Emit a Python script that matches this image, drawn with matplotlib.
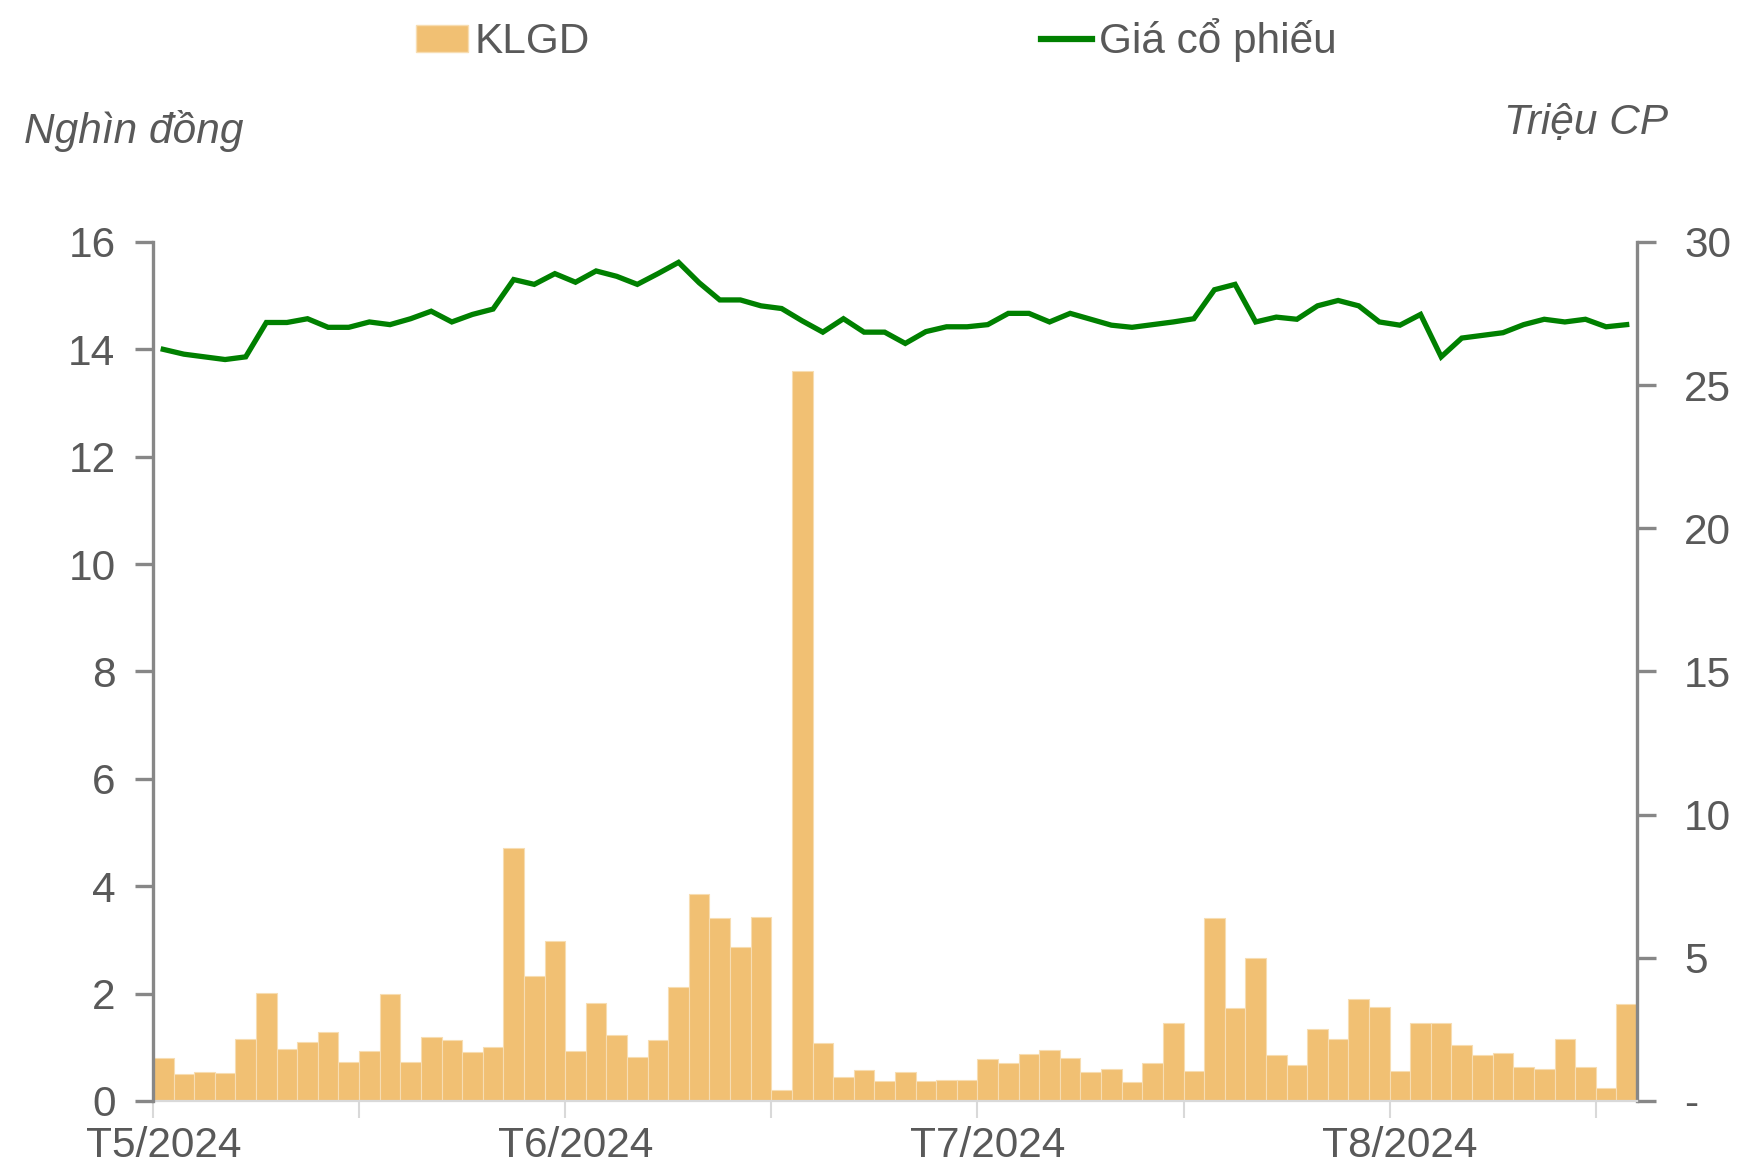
import numpy as np
import matplotlib
matplotlib.use("Agg")
import matplotlib.pyplot as plt
from matplotlib.patches import Patch
from matplotlib.lines import Line2D

# daily closing price (nghìn đồng) and traded volume (triệu CP), May-Aug 2024
price = [14.00, 13.91, 13.86, 13.81, 13.86, 14.50, 14.50, 14.57, 14.41, 14.41,
         14.51, 14.46, 14.57, 14.71, 14.51, 14.65, 14.75, 15.30, 15.21, 15.41,
         15.25, 15.46, 15.36, 15.21, 15.41, 15.62, 15.24, 14.92, 14.92, 14.81,
         14.76, 14.53, 14.32, 14.57, 14.32, 14.32, 14.11, 14.33, 14.42, 14.42,
         14.46, 14.67, 14.67, 14.51, 14.67, 14.56, 14.45, 14.41, 14.46, 14.51,
         14.57, 15.11, 15.21, 14.51, 14.60, 14.56, 14.81, 14.91, 14.81, 14.51,
         14.45, 14.65, 13.86, 14.21, 14.26, 14.31, 14.46, 14.56, 14.51, 14.56,
         14.42, 14.46]
volume = [1.50, 0.94, 1.01, 0.97, 2.17, 3.77, 1.83, 2.05, 2.41, 1.36,
          1.73, 3.75, 1.35, 2.24, 2.12, 1.72, 1.88, 8.83, 4.38, 5.58,
          1.75, 3.42, 2.31, 1.52, 2.14, 3.97, 7.24, 6.38, 5.36, 6.41,
          0.40, 25.50, 2.03, 0.82, 1.09, 0.71, 1.02, 0.71, 0.74, 0.74,
          1.48, 1.31, 1.64, 1.79, 1.49, 1.00, 1.13, 0.66, 1.31, 2.73,
          1.03, 6.40, 3.23, 4.99, 1.60, 1.27, 2.50, 2.18, 3.57, 3.27,
          1.05, 2.74, 2.73, 1.97, 1.62, 1.68, 1.18, 1.13, 2.16, 1.20,
          0.46, 3.38]
month_pos = [0, 20, 40, 60]
month_labels = ["T5/2024", "T6/2024", "T7/2024", "T8/2024"]
left_ticks = [0, 2, 4, 6, 8, 10, 12, 14, 16]
right_ticks = [0, 5, 10, 15, 20, 25, 30]
right_labels = ["-", "5", "10", "15", "20", "25", "30"]

BAR = "#F1C073"
LINE = "#008000"
TXT = "#595959"
SPINE = "#878787"
GRID = "#D9D9D9"
FS = 30.5

plt.rcParams["font.family"] = ["Liberation Sans", "DejaVu Sans"]

x = np.arange(len(price))

fig = plt.figure(figsize=(17.4, 11.7), dpi=100)
ax = fig.add_axes([0.0879, 0.0590, 0.8529, 0.7342])
ax2 = ax.twinx()

# volume bars on the right scale, price line on the left scale (kept on top)
ax2.bar(x, volume, width=1.0, color=BAR, edgecolor="#F7DDB2", linewidth=0.8)
ax.plot(x, price, color=LINE, lw=3.8, solid_joinstyle="miter", zorder=3)
ax.set_zorder(ax2.get_zorder() + 1)
ax.patch.set_visible(False)

ax.set_xlim(-0.5, len(price) - 0.5)
ax.set_ylim(0, 16)
ax2.set_ylim(0, 30)

ax.set_yticks(left_ticks)
ax.set_yticklabels([str(v) for v in left_ticks])
ax2.set_yticks(right_ticks)
ax2.set_yticklabels(right_labels)

ax.set_xticks(month_pos)
ax.set_xticklabels(month_labels)
ax.set_xticks(np.arange(-0.5, len(price), 10), minor=True)
ax.tick_params(axis="x", which="major", length=0, pad=18, labelsize=FS, labelcolor=TXT)
ax.tick_params(axis="x", which="minor", length=12, width=1.5, color=GRID)
ax.tick_params(axis="y", length=13, width=2.4, color=SPINE, pad=14,
               labelsize=FS, labelcolor=TXT)
ax2.tick_params(axis="y", length=14, width=2.4, color=SPINE, pad=20,
                labelsize=FS, labelcolor=TXT)

for a in (ax, ax2):
    a.spines["top"].set_visible(False)
    a.spines["bottom"].set_visible(False)
ax.spines["right"].set_visible(False)
ax2.spines["left"].set_visible(False)
ax.spines["left"].set_color(SPINE)
ax.spines["left"].set_linewidth(2.4)
ax2.spines["right"].set_color(SPINE)
ax2.spines["right"].set_linewidth(2.4)
ax.axhline(0, color=GRID, lw=1.6, zorder=0.5, clip_on=False)

fig.text(24 / 1740, 1 - 131 / 1170, "Nghìn đồng", fontsize=30.5, color=TXT,
         style="italic", ha="left", va="center")
fig.text(1668 / 1740, 1 - 123 / 1170, "Triệu CP", fontsize=30.5, color=TXT,
         style="italic", ha="right", va="center")

handles = [Patch(facecolor=BAR, edgecolor="#F7DDB2"),
           Line2D([], [], color=LINE, lw=4.5)]
fig.legend(handles, ["KLGD", "Giá cổ phiếu"], loc="center left",
           bbox_to_anchor=(416 / 1740, 1 - 40 / 1170), ncol=2, frameon=False,
           fontsize=FS, labelcolor=TXT, handlelength=1.22, handleheight=0.6,
           handletextpad=0.15, columnspacing=10.65, borderpad=0, borderaxespad=0)

fig.savefig("out.png", dpi=100)
